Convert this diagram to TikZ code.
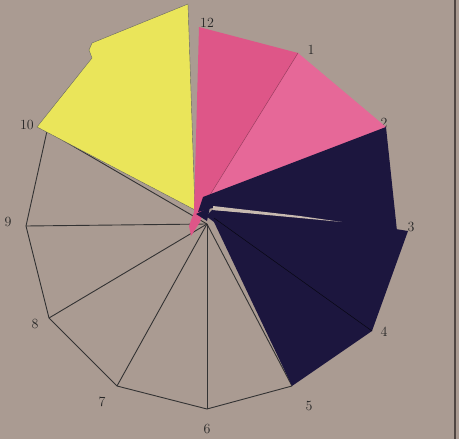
\documentclass[tikz,border=0pt]{standalone}
\begin{document}
\begin{tikzpicture}[x=1pt,y=-1pt,
  lbl/.style={font=\fontsize{14}{14}\selectfont, text=black!85},
  wire/.style={draw=black!80, line width=0.9pt, line join=round},
  paper/.style={draw=none}]
\definecolor{board}{RGB}{170,155,146}
\definecolor{yel}{RGB}{234,229,90}
\definecolor{pinkA}{RGB}{222,86,136}
\definecolor{pinkB}{RGB}{230,104,152}
\definecolor{navy}{RGB}{28,22,62}
\definecolor{edge}{RGB}{80,70,66}
\definecolor{strip}{RGB}{200,186,176}
\useasboundingbox (0,0) rectangle (459,439);
\fill[board] (0,0) rectangle (459,439);
\draw[edge, line width=1.6pt] (455,0) -- (455,439);
% outline points
\coordinate (C) at (207,224);
\coordinate (p10) at (47,131);
\coordinate (p9) at (26,226);
\coordinate (p8) at (49,318);
\coordinate (p7) at (117,386);
\coordinate (p6) at (207,409);
\coordinate (p5) at (292,386);
\coordinate (p4) at (372,331);
\coordinate (p3) at (408,232);
% outline and spokes
\draw[wire] (p10) -- (p9) -- (p8) -- (p7) -- (p6) -- (p5);
\foreach \p in {p10,p9,p8,p7,p6,p5} \draw[wire] (C) -- (\p);
% labels
\node[lbl] (l12) at (207,23) {12};
\node[lbl] (l1) at (311,50) {1};
\node[lbl] (l2) at (384,123) {2};
\node[lbl] (l3) at (411,227) {3};
\node[lbl] (l4) at (384,332) {4};
\node[lbl] (l5) at (309,406) {5};
\node[lbl] (l6) at (207,429) {6};
\node[lbl] (l7) at (102,402) {7};
\node[lbl] (l8) at (35,324) {8};
\node[lbl] (l9) at (8,222) {9};
\node[lbl] (l10) at (27,125) {10};
% yellow piece
\fill[yel, draw=black!60, line width=0.4pt] (188,4) -- (195,210) -- (37,127) -- (92,58) -- (89,50) -- (92,43) -- cycle;
% pink pieces
\fill[pinkA] (199,27) -- (298,53) -- (206,204) -- (200,222) -- (191,236) -- (189,226) -- (194,212) -- cycle;
\fill[pinkB] (298,53) -- (386,127) -- (212,200) -- (204,204) -- cycle;
\draw[pinkA!70!black, line width=0.5pt] (298,53) -- (205,203);
% navy pieces
\fill[navy] (203,197) -- (386,127) -- (397,231) -- (340,224) -- (216,207) -- (198,212) -- cycle;
\fill[navy] (212,210) -- (340,220) -- (408,231) -- (372,331) -- (292,386) -- (214,222) -- (206,216) -- cycle;
\fill[strip] (213,206) -- (300,216) -- (342,222) -- (300,218) -- (213,210) -- cycle;
\draw[black!70!navy, line width=0.5pt] (214,218) -- (p4);
\fill[navy] (196,214) -- (210,207) -- (207,221) -- cycle;
\end{tikzpicture}
\end{document}
